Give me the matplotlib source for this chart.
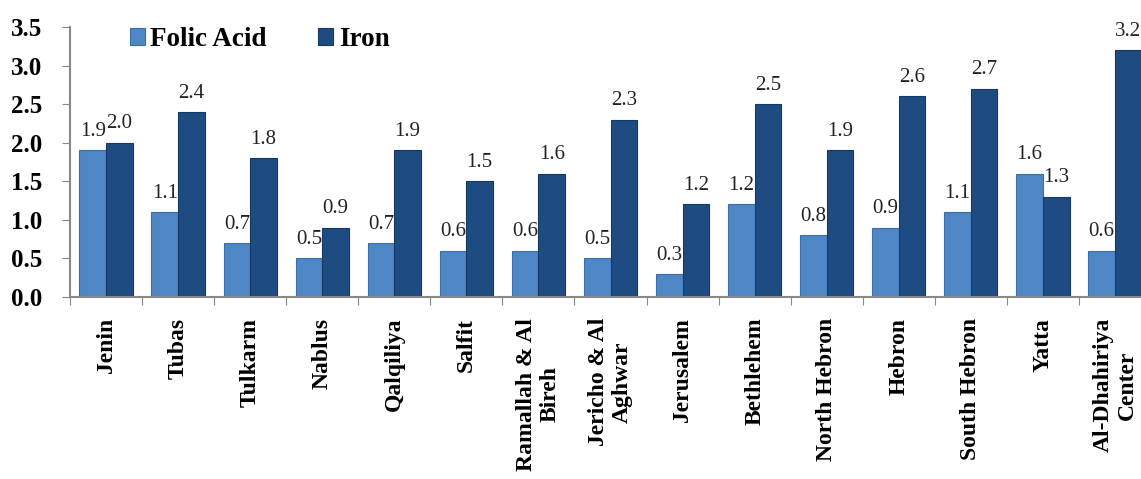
import matplotlib.pyplot as plt
import numpy as np

districts = ['Jenin', 'Tubas', 'Tulkarm', 'Nablus', 'Qalqiliya', 'Salfit',
             'Ramallah & Al\nBireh', 'Jericho & Al\nAghwar', 'Jerusalem',
             'Bethlehem', 'North Hebron', 'Hebron', 'South Hebron', 'Yatta',
             'Al-Dhahiriya\nCenter']
folic_acid = [1.9, 1.1, 0.7, 0.5, 0.7, 0.6, 0.6, 0.5, 0.3, 1.2, 0.8, 0.9, 1.1, 1.6, 0.6]
iron = [2.0, 2.4, 1.8, 0.9, 1.9, 1.5, 1.6, 2.3, 1.2, 2.5, 1.9, 2.6, 2.7, 1.3, 3.2]

plt.rcParams['font.family'] = ['Liberation Serif', 'DejaVu Serif']

fig = plt.figure(figsize=(11.41, 4.79), dpi=100)
# axes reaches a bit past the right edge, like the source
ax = fig.add_axes([70 / 1141, 182 / 479, 1081 / 1141, 270 / 479])

x = np.arange(len(districts))
w = 0.37
b1 = ax.bar(x - w / 2, folic_acid, w, color='#4f86c6', edgecolor='#3a6ea8',
            linewidth=0.8, label='Folic Acid')
b2 = ax.bar(x + w / 2, iron, w, color='#1d4b82', edgecolor='#143a66',
            linewidth=0.8, label='Iron')

for bars, vals in ((b1, folic_acid), (b2, iron)):
    for rect, v in zip(bars, vals):
        ax.text(rect.get_x() + rect.get_width() / 2, v + 0.12, f'{v:.1f}',
                ha='center', va='bottom', fontsize=15, color='#222222')

ax.set_xlim(-0.5, len(districts) - 0.5)
ax.set_ylim(0, 3.5)
ax.set_yticks(np.arange(0, 3.51, 0.5))
ax.set_yticklabels([f'{v:.1f}' for v in np.arange(0, 3.51, 0.5)],
                   fontsize=18, fontweight='bold')

ax.set_xticks(x - 0.5, minor=False)
ax.set_xticklabels([])
ax.set_xticks(x, minor=True)
ax.set_xticklabels(districts, minor=True, rotation=90, fontsize=17,
                   fontweight='bold', va='top', ha='center',
                   multialignment='center')
ax.tick_params(axis='x', which='minor', length=0, pad=15)
ax.tick_params(axis='x', which='major', length=6, color='#888888', direction='out')
ax.tick_params(axis='y', length=6, color='#888888', direction='out', pad=14)

for s in ('top', 'right'):
    ax.spines[s].set_visible(False)
ax.spines['left'].set_color('#888888')
ax.spines['bottom'].set_color('#888888')
ax.spines['left'].set_linewidth(1.5)
ax.spines['bottom'].set_linewidth(1.5)

ax.legend(loc='upper left', bbox_to_anchor=(0.033, 1.09), ncol=2, frameon=False,
          prop={'size': 19.5, 'weight': 'bold'}, handlelength=0.55, handleheight=0.55,
          handletextpad=0.2, columnspacing=1.9)

fig.savefig('out.png', dpi=100)
